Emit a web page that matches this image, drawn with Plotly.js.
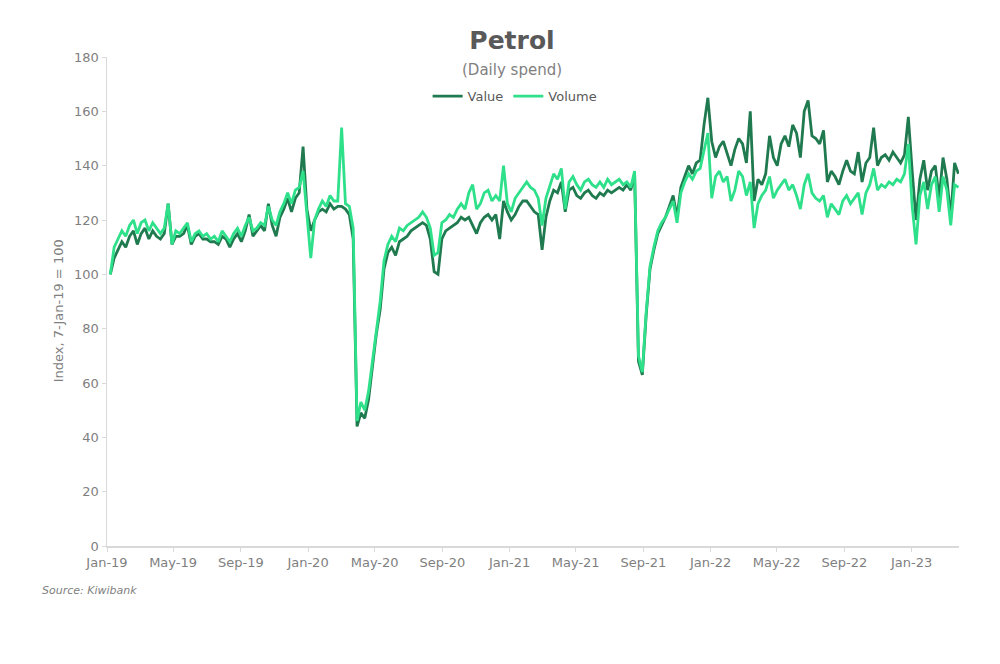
<!DOCTYPE html>
<html>
<head>
<meta charset="utf-8">
<script src="https://cdn.plot.ly/plotly-3.0.1.min.js"></script>
<style>
  html, body { margin: 0; padding: 0; background: #ffffff; }
  #chart { width: 1000px; height: 664px; }
</style>
</head>
<body>
<div id="chart"></div>
<script>
// Weekly observations starting 7-Jan-19
const startDate = '2019-01-07';

const valueSeries = [
  100,106,109,112,110,114,116,111,115,117,
  113,116,114,113,115,126,111,114,114,115,
  118,111,114,115,113,113,112,112,111,114,
  113,110,113,115,112,116,122,114,116,118,
  116,126,118,114,121,124,128,123,128,130,
  147,124,116,120,123,124,123,126,124,125,
  125,124,122,113,44,49,47,54,66,78,
  87,102,108,110,107,112,113,114,116,117,
  118,119,118,113,101,100,113,116,117,118,
  119,121,120,121,118,115,119,121,122,120,
  122,113,127,123,120,122,125,127,127,125,
  123,122,109,121,127,131,130,134,123,131,
  132,129,128,130,131,129,128,130,129,131,
  130,131,132,131,133,131,137,68,63,85,
  102,109,115,118,121,125,129,121,132,136,
  140,137,141,142,155,165,149,143,147,149,
  144,140,146,150,148,141,160,127,135,133,
  137,151,143,140,148,151,147,155,152,143,
  160,164,151,150,148,153,134,138,136,133,
  138,142,138,137,145,134,141,143,154,140,
  143,144,142,145,143,141,144,158,138,120,
  135,142,131,138,140,128,143,135,121,141,
  137
];

const volumeSeries = [
  100,110,113,116,114,118,120,115,119,120,
  116,119,117,115,117,126,111,116,115,117,
  119,112,115,116,114,115,113,114,112,116,
  114,112,115,117,114,118,121,116,117,119,
  118,125,120,118,123,126,130,126,131,132,
  138,122,106,120,124,127,125,129,127,127,
  154,126,125,117,46,53,50,57,68,80,
  90,105,111,114,112,117,116,118,119,120,
  121,123,121,117,107,108,119,120,122,121,
  124,126,124,130,133,124,126,130,131,127,
  129,127,140,126,123,128,130,132,134,132,
  131,128,118,128,133,137,135,139,124,134,
  136,133,131,134,135,133,132,134,132,135,
  133,134,135,133,134,132,138,70,64,86,
  103,110,116,119,121,124,127,119,130,134,
  137,135,138,139,146,152,128,136,138,134,
  136,127,131,138,136,129,134,117,126,129,
  131,136,128,131,133,135,131,133,129,124,
  133,137,130,128,127,129,121,126,124,122,
  127,129,126,128,130,122,130,133,139,131,
  133,132,134,133,135,134,137,148,125,111,
  129,134,124,133,136,123,136,131,118,133,
  132
];

const tickDates  = ['2019-01-01','2019-05-01','2019-09-01','2020-01-01','2020-05-01','2020-09-01',
                    '2021-01-01','2021-05-01','2021-09-01','2022-01-01','2022-05-01','2022-09-01','2023-01-01'];
const tickLabels = ['Jan-19','May-19','Sep-19','Jan-20','May-20','Sep-20',
                    'Jan-21','May-21','Sep-21','Jan-22','May-22','Sep-22','Jan-23'];

function weeklyDates(start, n) {
  const out = [];
  const t0 = Date.parse(start + 'T00:00:00Z');
  for (let i = 0; i < n; i++) {
    out.push(new Date(t0 + i * 7 * 86400000).toISOString().slice(0, 10));
  }
  return out;
}
const dates = weeklyDates(startDate, valueSeries.length);

const FONT = 'DejaVu Sans, Lato, sans-serif';

const traces = [
  { x: dates, y: valueSeries, name: 'Value', type: 'scatter', mode: 'lines',
    line: { color: '#207a4f', width: 2.8 } },
  { x: dates, y: volumeSeries, name: 'Volume', type: 'scatter', mode: 'lines',
    line: { color: '#2fe08b', width: 2.8 } }
];

const layout = {
  width: 1000, height: 664,
  paper_bgcolor: '#ffffff', plot_bgcolor: '#ffffff',
  margin: { l: 107, r: 41, t: 57, b: 118 },
  font: { family: FONT, color: '#7f7f7f', size: 13 },
  title: { text: '<b>Petrol</b>', xref: 'container', yref: 'container',
           x: 0.512, y: 0.94, xanchor: 'center', yanchor: 'middle',
           font: { family: FONT, size: 25, color: '#595959' } },
  showlegend: true,
  legend: { orientation: 'h', x: 0.479, y: 0.92, xanchor: 'center', yanchor: 'middle',
            font: { family: FONT, size: 13, color: '#595959' }, itemwidth: 30,
            bgcolor: 'rgba(0,0,0,0)' },
  xaxis: {
    type: 'date', range: ['2019-01-01', '2023-03-28'],
    tickvals: tickDates, ticktext: tickLabels,
    showgrid: false, zeroline: false,
    showline: true, linecolor: '#d9d9d9', linewidth: 1.5,
    ticks: 'outside', ticklen: 4, tickcolor: '#d9d9d9',
    tickfont: { family: FONT, size: 13, color: '#7f7f7f' }
  },
  yaxis: {
    range: [0, 180], tickvals: [0,20,40,60,80,100,120,140,160,180],
    showgrid: false, zeroline: false,
    showline: true, linecolor: '#d9d9d9', linewidth: 1.5,
    ticks: 'outside', ticklen: 4, tickcolor: '#d9d9d9',
    tickfont: { family: FONT, size: 13, color: '#7f7f7f' }
  },
  annotations: [
    { text: '(Daily spend)', xref: 'paper', yref: 'paper', x: 0.475, y: 0.973,
      xanchor: 'center', yanchor: 'middle', showarrow: false,
      font: { family: FONT, size: 15, color: '#7f7f7f' } },
    { text: 'Index, 7-Jan-19 = 100', xref: 'paper', yref: 'paper', x: -0.0575, y: 0.48,
      xanchor: 'center', yanchor: 'middle', showarrow: false, textangle: -90,
      font: { family: FONT, size: 13, color: '#7f7f7f' } },
    { text: '<i>Source: Kiwibank</i>', xref: 'paper', yref: 'paper', x: -0.079, y: -0.09,
      xanchor: 'left', yanchor: 'middle', showarrow: false,
      font: { family: FONT, size: 11, color: '#7f7f7f' } }
  ]
};

Plotly.newPlot('chart', traces, layout, { displayModeBar: false, staticPlot: true });
</script>
</body>
</html>
